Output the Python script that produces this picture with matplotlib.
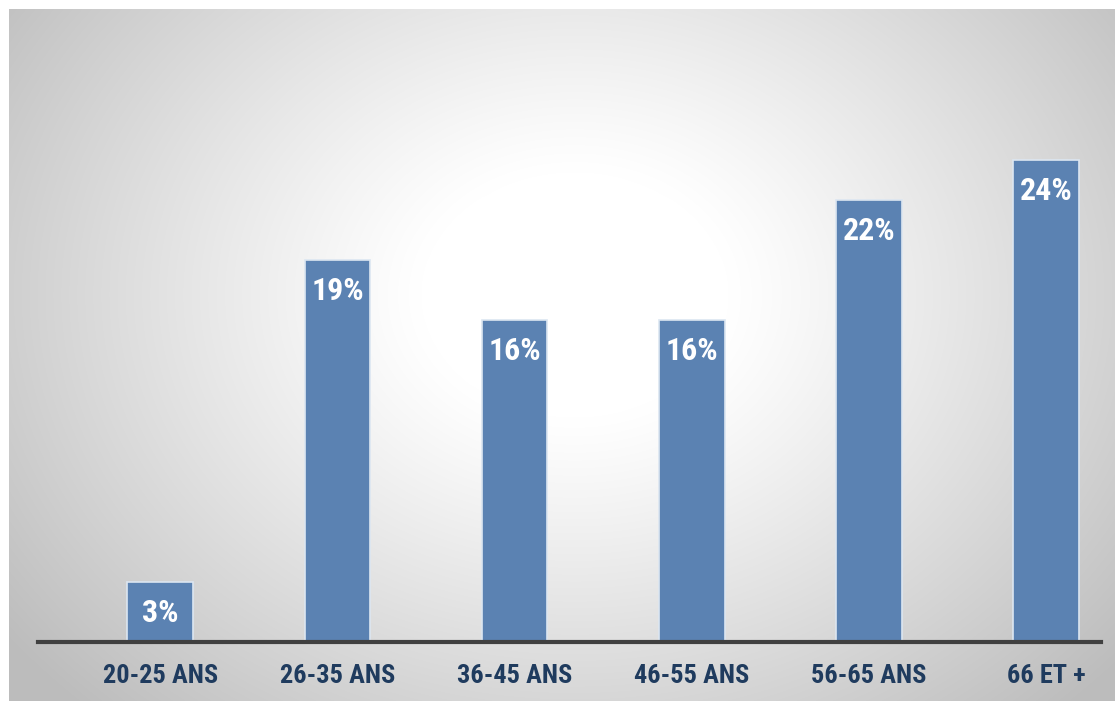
import numpy as np
import matplotlib.pyplot as plt
from matplotlib import font_manager

# data
categories = ['20-25 ANS', '26-35 ANS', '36-45 ANS', '46-55 ANS', '56-65 ANS', '66 ET +']
values = [3, 19, 16, 16, 22, 24]

names = {f.name for f in font_manager.fontManager.ttflist}
font = 'Liberation Sans'
for cand in ['Liberation Sans Narrow', 'Roboto Condensed', 'Open Sans Condensed', 'DejaVu Sans Condensed']:
    if cand in names:
        font = cand
        break
plt.rcParams['font.family'] = [font, 'DejaVu Sans']

W, H = 1115, 703
fig = plt.figure(figsize=(W / 100, H / 100), dpi=100)
fig.patch.set_facecolor('white')

# radial gradient background
bg = fig.add_axes([9 / W, 2 / H, 1 - 9 / W, 1 - 11 / H])
yy, xx = np.mgrid[0:H, 0:W]
cx, cy = 570, 290
r = np.sqrt(((xx - cx) / 620.0) ** 2 + ((yy - cy) / 500.0) ** 2)
shade = 1.0 - 0.29 * np.clip(r - 0.25, 0, None) ** 1.1
shade = np.clip(shade, 0.74, 1.0)
bg.imshow(np.dstack([shade] * 3), aspect='auto', extent=[0, 1, 0, 1])
bg.axis('off')

ax = fig.add_axes([38 / W, (H - 642) / H, (1101 - 38) / W, 600 / H])
ax.patch.set_alpha(0)
x = np.arange(len(categories))
bars = ax.bar(x, values, width=0.37, color='#5b82b2', edgecolor='#dce6f1', linewidth=1.2, zorder=2)
for b, v in zip(bars, values):
    ax.text(b.get_x() + b.get_width() / 2, v - 0.8, f'{v}%', ha='center', va='top',
            color='white', fontsize=23, fontweight='bold')

ax.set_xlim(-0.69, 5.31)
ax.set_ylim(0, 600 / 20.1)
ax.set_xticks(x)
ax.set_xticklabels(categories, fontsize=19, fontweight='bold', color='#1f3b5e')
ax.tick_params(axis='x', length=0, pad=16)
ax.set_yticks([])
for s in ['top', 'right', 'left']:
    ax.spines[s].set_visible(False)
ax.spines['bottom'].set_color('#404040')
ax.spines['bottom'].set_linewidth(3)
ax.spines['bottom'].set_zorder(3)

fig.savefig('out.png', dpi=100)
